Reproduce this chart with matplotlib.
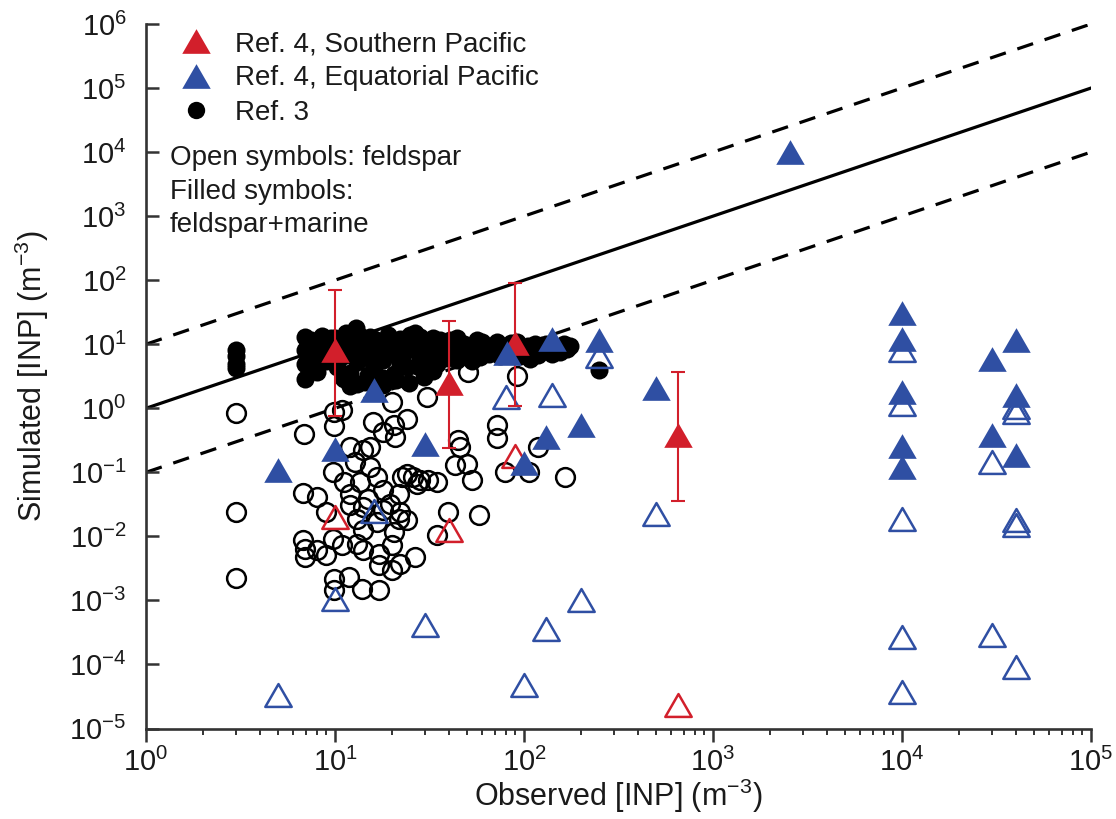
import numpy as np
import matplotlib.pyplot as plt
from matplotlib.lines import Line2D
from matplotlib.path import Path
from matplotlib.ticker import LogLocator, NullLocator

# ==========================================
# 1. FONTS
# ==========================================
plt.rcParams['font.family'] = ['Liberation Sans', 'DejaVu Sans']
plt.rcParams['mathtext.fontset'] = 'custom'
plt.rcParams['mathtext.rm'] = 'Liberation Sans'
plt.rcParams['mathtext.it'] = 'Liberation Sans:italic'
plt.rcParams['mathtext.bf'] = 'Liberation Sans:bold'

# ==========================================
# 2. DATA
# ==========================================
# Ref. 3, feldspar+marine (filled black circles)
ref3_fill_x = [3, 3, 3, 3,
               6.95, 6.95, 6.95, 6.95, 8.0, 8.0, 8.0, 9.04, 9.42, 10.2, 11.1, 12.0,
               12.9, 13.0, 13.0, 13.0, 14.1, 15.3, 16.0, 16.6, 18.0, 19.6, 20.4, 21.2,
               23.0, 24.0, 26.0, 26.5, 28.2, 29.4, 31.9, 34.6, 37.5, 40.7, 44.1, 45.9,
               49.9, 56.3, 58.6, 69.0, 78.0, 88.1, 99.5, 108, 122, 138, 162, 169, 165, 250,
               13, 11, 15, 17, 19, 22, 25, 27, 30, 33, 35, 38, 42, 48, 52, 62, 9, 10,
               12, 15, 18, 21, 7.5, 8.5, 11.5, 28, 53, 65, 75, 85, 95, 115, 140, 150,
               7.2, 7.5, 8.2, 8.8, 9.5, 10.5, 11.0, 12.0, 13.5, 14.5, 14.0, 16.0, 17.0, 18.0,
               19.0, 20.0, 21.0, 22.0, 23.0, 24.5, 25.0, 26.0, 28.0, 31.0, 33.0, 36.0, 39.0,
               44.0, 47.0, 55.0, 60.0, 66.0, 72.0, 80.0, 92.0, 105, 118, 130, 155, 175]
ref3_fill_y = [8.0, 6.5, 5.0, 4.2,
               13.0, 8.05, 4.98, 2.90, 10.2, 5.6, 3.69, 11.5, 7.13, 4.42, 2.90, 9.07,
               18.0, 11.5, 5.29, 2.43, 7.13, 13.0, 4.42, 9.07, 5.61, 11.5, 3.48, 7.13,
               10.2, 4.42, 13.0, 15.0, 6.33, 3.08, 10.2, 4.98, 8.05, 11.5, 5.61, 9.07,
               7.13, 11.5, 6.33, 8.05, 9.07, 7.13, 8.05, 5.96, 8.05, 9.07, 10.2, 8.55, 9.6, 4.0,
               8.0, 6.5, 6.0, 11.0, 8.0, 5.0, 8.5, 4.5, 7.0, 12.5, 6.0, 10.0, 7.5, 10.0, 8.5, 9.5,
               5.5, 12.5, 3.5, 3.3, 3.0, 9.5, 6.5, 13.5, 15.0, 13.0, 5.5, 7.0, 6.5, 10.5, 6.5,
               10.0, 7.0, 9.0,
               9.5, 11.5, 7.5, 9.0, 12.5, 10.5, 3.0, 2.2, 13.5, 2.6, 10.0, 12.0, 7.0, 2.3,
               14.0, 9.5, 2.8, 12.0, 7.0, 2.5, 14.0, 10.0, 5.5, 8.5, 3.8, 11.5, 6.0,
               12.5, 6.5, 9.0, 11.0, 8.0, 11.0, 8.0, 11.0, 9.5, 6.8, 10.0, 7.5, 9.5]

# Ref. 3, feldspar only (open black circles)
ref3_open_x = [3.0, 3.0, 3.0, 6.86, 9.9, 9.9, 10.9, 15.8, 20.0, 24.0, 20.4, 20.8, 18.0,
               30.6, 50.6, 91.6, 71.8, 71.8, 119, 79.5, 106, 165, 45.0, 45.9, 49.9, 43.2,
               53.0, 39.8, 57.5, 34.6, 34.6, 31.2, 27.1, 24.0, 22.6, 21.7, 22.1, 24.0,
               26.5, 22.1, 20.0, 17.0, 17.0, 20.0, 17.0, 13.9, 11.8, 9.9, 9.9, 14.1, 13.0,
               10.9, 9.8, 8.0, 6.8, 6.95, 6.95, 9.0, 6.8, 8.0, 9.0, 12.0, 13.0, 14.1, 12.0,
               11.1, 9.8, 12.0, 14.1, 15.3, 12.8, 15.3, 16.6, 18.0, 19.6, 21.7, 18.0, 15.0,
               13.6, 14.1, 16.6, 20.4, 26.0, 28.2]
ref3_open_y = [0.83, 0.024, 0.0022, 0.40, 0.88, 0.52, 0.93, 0.61, 1.26, 0.69, 0.54, 0.36, 0.43,
               1.50, 3.7, 3.2, 0.54, 0.34, 0.25, 0.101, 0.101, 0.085, 0.32, 0.25, 0.137, 0.129,
               0.075, 0.024, 0.0213, 0.0104, 0.071, 0.075, 0.0667, 0.0955, 0.0847, 0.0465, 0.024, 0.0178,
               0.00477, 0.00376, 0.00726, 0.00538, 0.00354, 0.00296, 0.00144, 0.00153, 0.00233, 0.00219,
               0.00144, 0.00607, 0.0077, 0.00726, 0.00923, 0.00607, 0.00869, 0.00644, 0.00477, 0.00507,
               0.0476, 0.0413, 0.024, 0.0306, 0.0189, 0.0288, 0.0465, 0.0708, 0.101, 0.249, 0.221,
               0.249, 0.145, 0.121, 0.0847, 0.0525, 0.0325, 0.0189, 0.0255, 0.0389, 0.0708, 0.0125,
               0.0168, 0.0117, 0.0847, 0.0752]

# Ref. 4, Equatorial Pacific
eq_fill_x = [5, 10, 16, 30, 81, 100, 130, 140, 200, 250, 500, 2570,
             1e4, 1e4, 1e4, 1e4, 1e4, 3e4, 3e4, 4e4, 4e4, 4e4]
eq_fill_y = [0.11, 0.23, 1.9, 0.28, 7.2, 0.14, 0.36, 12.0, 0.55, 11.5, 2.1, 1.0e4,
             31, 12.2, 1.8, 0.26, 0.12, 5.8, 0.38, 11.5, 1.6, 0.185]
eq_open_x = [5, 10, 16, 30, 80, 100, 130, 140, 200, 250, 500,
             1e4, 1e4, 1e4, 1e4, 1e4, 3e4, 3e4, 4e4, 4e4, 4e4, 4e4, 4e4]
eq_open_y = [3.3e-5, 1.05e-3, 0.025, 4.1e-4, 1.5, 4.7e-5, 3.6e-4, 1.6, 1.0e-3, 6.5, 0.022,
             8.0, 1.18, 0.019, 2.7e-4, 3.7e-5, 0.145, 2.9e-4, 1.05, 0.88, 0.018, 0.015, 9.0e-5]

# Ref. 4, Southern Pacific (with min/max error bars)
sp_fill_x = [10, 40, 90, 650]
sp_fill_y = [8.0, 2.45, 10.3, 0.38]
sp_lo = [0.75, 0.24, 1.07, 0.036]
sp_hi = [70, 23, 90, 3.7]
sp_open_x = [10, 40, 90, 650]
sp_open_y = [0.02, 0.0125, 0.18, 2.3e-5]

# 1:1 line and factor-of-10 envelopes
ref_x = np.array([1.0, 1e5])
ref_factors = [1, 10, 0.1]

legend_labels = ['Ref. 4, Southern Pacific', 'Ref. 4, Equatorial Pacific', 'Ref. 3']
note_text = 'Open symbols: feldspar\nFilled symbols:\nfeldspar+marine'

# ==========================================
# 3. STYLE
# ==========================================
RED = '#d21f2b'
BLUE = '#2f4fa3'
TXT = '#1a1a1a'
AX = '#333333'
FS = 20
TICK_FS = 21
LABEL_FS = 22

tri = Path([(-1, -0.866), (1, -0.866), (0, 0.866), (-1, -0.866)],
           [Path.MOVETO, Path.LINETO, Path.LINETO, Path.CLOSEPOLY])
TRI_MS = 20.5
OPEN_TRI_MS = 19
CIRC_MS = 13

# ==========================================
# 4. PLOT
# ==========================================
fig = plt.figure(figsize=(11.16, 8.19), dpi=100)
ax = fig.add_axes([146 / 1116, 1 - 728.5 / 819, 945 / 1116, 704.5 / 819])
ax.set_xscale('log')
ax.set_yscale('log')

for fac in ref_factors:
    if fac == 1:
        ax.plot(ref_x, ref_x * fac, color='black', lw=2.3, zorder=1)
    else:
        ax.plot(ref_x, ref_x * fac, color='black', lw=2.3, dashes=(5.2, 3.8), zorder=1)

ax.plot(ref3_open_x, ref3_open_y, ls='none', marker='o', ms=13.5, mfc='none',
        mec='black', mew=1.8, zorder=2)
ax.plot(ref3_fill_x, ref3_fill_y, ls='none', marker='o', ms=CIRC_MS, color='black',
        mew=0, zorder=3)

ax.plot(eq_open_x, eq_open_y, ls='none', marker=tri, ms=OPEN_TRI_MS, mfc='none',
        mec=BLUE, mew=1.8, zorder=4)
ax.plot(sp_open_x, sp_open_y, ls='none', marker=tri, ms=OPEN_TRI_MS, mfc='none',
        mec=RED, mew=1.8, zorder=4)

sp_y = np.array(sp_fill_y)
yerr = [sp_y - np.array(sp_lo), np.array(sp_hi) - sp_y]
ax.errorbar(sp_fill_x, sp_fill_y, yerr=yerr, fmt='none', ecolor=RED, elinewidth=1.5,
            capsize=5, capthick=1.5, zorder=5)
ax.plot(sp_fill_x, sp_fill_y, ls='none', marker=tri, ms=TRI_MS, color=RED, mew=0, zorder=6)
ax.plot(eq_fill_x, eq_fill_y, ls='none', marker=tri, ms=TRI_MS, color=BLUE, mew=0, zorder=6)

# Axes formatting
ax.set_xlim(1, 1e5)
ax.set_ylim(1e-5, 1e6)
ax.xaxis.set_major_locator(LogLocator(base=10, numticks=20))
ax.xaxis.set_minor_locator(LogLocator(base=10, subs=np.arange(2, 10), numticks=20))
ax.yaxis.set_major_locator(LogLocator(base=10, numticks=20))
ax.yaxis.set_minor_locator(NullLocator())

for side in ['top', 'right']:
    ax.spines[side].set_visible(False)
for side in ['left', 'bottom']:
    ax.spines[side].set_linewidth(1.9)
    ax.spines[side].set_color(AX)

ax.tick_params(axis='y', which='major', direction='in', length=9.5, width=1.8,
               color=AX, pad=14, labelsize=TICK_FS, labelcolor=TXT)
ax.tick_params(axis='x', which='major', direction='out', length=9, width=1.8,
               color=AX, pad=5, labelsize=TICK_FS, labelcolor=TXT)
ax.tick_params(axis='x', which='minor', direction='out', length=4.5, width=1.4, color=AX)

ax.set_xlabel('Observed [INP] (m$^{-3}$)', fontsize=LABEL_FS, color=TXT, labelpad=0)
ax.set_ylabel('Simulated [INP] (m$^{-3}$)', fontsize=LABEL_FS, color=TXT, labelpad=13)

# Legend
handles = [
    Line2D([], [], ls='none', marker=tri, ms=TRI_MS, color=RED, mew=0),
    Line2D([], [], ls='none', marker=tri, ms=TRI_MS, color=BLUE, mew=0),
    Line2D([], [], ls='none', marker='o', ms=12.5, color='black', mew=0),
]
leg = ax.legend(handles, legend_labels, loc='upper left', bbox_to_anchor=(0.038, 0.99),
                frameon=False, fontsize=FS, handlelength=1.0, handletextpad=0.9,
                labelspacing=0.3, borderpad=0, borderaxespad=0)
for t in leg.get_texts():
    t.set_color(TXT)

ax.text(0.0254, 0.762, note_text, transform=ax.transAxes, fontsize=FS, color=TXT,
        ha='left', va='center', linespacing=1.36)

fig.savefig('out.png', dpi=100)
